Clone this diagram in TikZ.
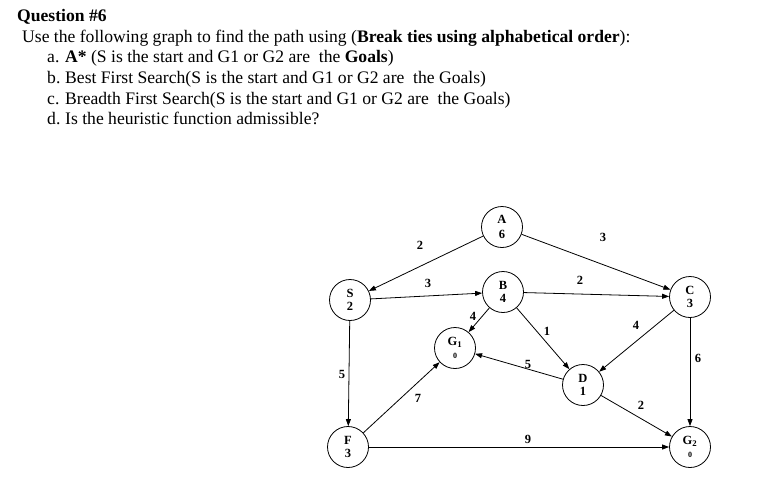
\documentclass[tikz,border=0pt]{standalone}
\usepackage{fontspec}
\setmainfont{Liberation Serif}
\usetikzlibrary{arrows.meta}
\begin{document}
\begin{tikzpicture}[x=1pt,y=-1pt,
  st/.style={circle,draw,line width=0.8pt,minimum size=41pt,inner sep=0pt,align=center,font=\fontsize{12.5}{12.5}\selectfont\bfseries},
  ed/.style={-{Triangle[length=7pt,width=5pt]},line width=0.8pt},
  wt/.style={font=\fontsize{12.5}{12.5}\selectfont\bfseries},
  tx/.style={anchor=base west,inner sep=0pt,font=\fontsize{17.6}{18}\selectfont}]
\useasboundingbox (0,0) rectangle (763,477);
\node[tx,font=\fontsize{17.6}{18}\selectfont\bfseries] (q) at (17,21) {Question \#6};
\node[tx] (l0) at (22,42) {Use the following graph to find the path using (\textbf{Break ties using alphabetical order}):};
\node[tx] (la) at (47,62) {a.};
\node[tx] (ta) at (65,62) {\textbf{A*} (S is the start and G1 or G2 are\ \ the \textbf{Goals})};
\node[tx] (lb) at (47,83) {b.};
\node[tx] (tb) at (65,83) {Best First Search(S is the start and G1 or G2 are\ \ the Goals)};
\node[tx] (lc) at (47,104) {c.};
\node[tx] (tc) at (65,104) {Breadth First Search(S is the start and G1 or G2 are\ \ the Goals)};
\node[tx] (ld) at (47,124) {d.};
\node[tx] (td) at (65,124) {Is the heuristic function admissible?};

\node[st] (A) at (502,227) {A\\[2pt]6};
\node[st] (S) at (350,300) {S\\2};
\node[st] (B) at (503,292) {B\\4};
\node[st] (C) at (690,297) {C\\3};
\node[st] (G1) at (455,348) {G\textsubscript{1}\\[1pt]{\fontsize{8}{8}\selectfont 0}};
\node[st] (D) at (583,385) {D\\1};
\node[st] (F) at (348,447) {F\\3};
\node[st] (G2) at (690,447) {G\textsubscript{2}\\[1pt]{\fontsize{8}{8}\selectfont 0}};

\draw[ed] (A) -- (S);
\draw[ed] (A) -- (C);
\draw[ed] (S) -- (B);
\draw[ed] (B) -- (C);
\draw[ed] (B) -- (G1);
\draw[ed] (B) -- (D);
\draw[ed] (C) -- (D);
\draw[ed] (C) -- (G2);
\draw[ed] (D) -- (G1);
\draw[ed] (D) -- (G2);
\draw[ed] (S) -- (F);
\draw[ed] (F) -- (G1);
\draw[ed] (F) -- (G2);

\node[wt] (w1) at (420,245) {2};
\node[wt] (w2) at (603,237) {3};
\node[wt] (w3) at (428,283) {3};
\node[wt] (w4) at (580,280) {2};
\node[wt] (w5) at (473,316) {4};
\node[wt] (w6) at (547,331) {1};
\node[wt] (w7) at (636,325) {4};
\node[wt] (w8) at (698,358) {6};
\node[wt] (w9) at (528,364) {5};
\node[wt] (w10) at (641,405) {2};
\node[wt] (w11) at (342,374) {5};
\node[wt] (w12) at (418,398) {7};
\node[wt] (w13) at (528,439) {9};
\end{tikzpicture}
\end{document}
